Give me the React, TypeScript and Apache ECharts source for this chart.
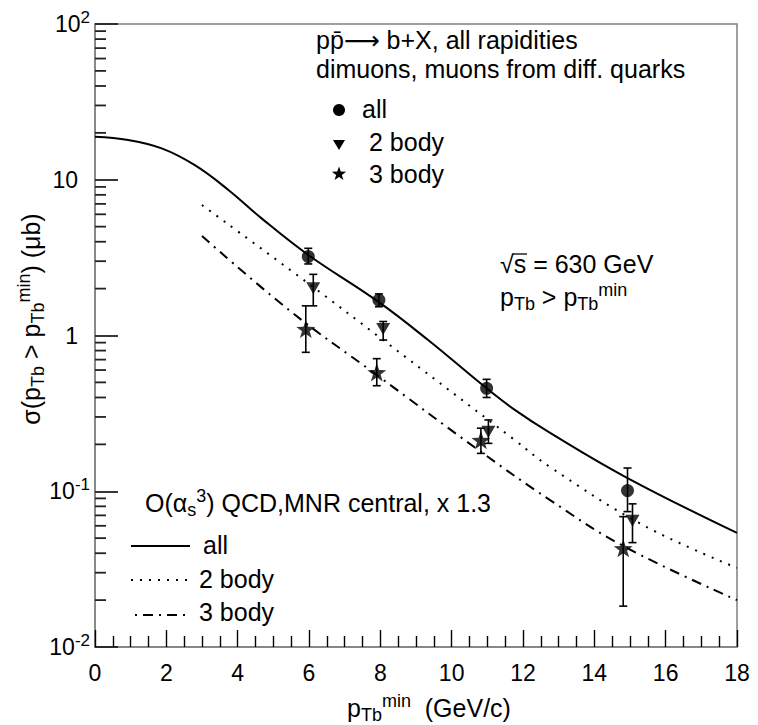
import React, { useEffect, useRef } from 'react';
import * as echarts from 'echarts';

// ---- Theory curves, O(alpha_s^3) QCD (MNR central x 1.3) ----
const curveAllX = [0, 0.93, 1.87, 2.8, 3.74, 4.67, 5.98, 7.94, 9.34, 10.98, 11.77, 12.76, 14.93, 18];
const curveAllY = [18.9, 18.0, 15.9, 12.4, 8.6, 5.65, 3.29, 1.65, 0.935, 0.458, 0.333, 0.237, 0.1216, 0.054];
const curve2X = [3.0, 5.98, 8.08, 11.77, 12.76, 15.36, 18];
const curve2Y = [6.88, 2.16, 0.935, 0.213, 0.143, 0.0607, 0.0322];
const curve3X = [3.0, 5.5, 7.9, 10.75, 12.76, 14.81, 18];
const curve3Y = [4.35, 1.42, 0.558, 0.184, 0.0878, 0.0445, 0.02];

// ---- Data points ----
const allX = [5.98, 7.96, 10.98, 14.93];
const allY = [3.21, 1.69, 0.458, 0.101];
const allLo = [2.88, 1.53, 0.40, 0.074];
const allHi = [3.63, 1.85, 0.523, 0.141];

const twoX = [6.12, 8.08, 11.03, 15.07];
const twoY = [2.01, 1.10, 0.241, 0.0647];
const twoLo = [1.55, 0.935, 0.203, 0.0468];
const twoHi = [2.47, 1.23, 0.287, 0.083];

const threeX = [5.91, 7.90, 10.82, 14.81];
const threeY = [1.10, 0.58, 0.213, 0.043];
const threeLo = [0.78, 0.476, 0.175, 0.0183];
const threeHi = [1.55, 0.71, 0.254, 0.0687];

// ---- Axis ----
const xTickLabels = ['0', '2', '4', '6', '8', '10', '12', '14', '16', '18'];
const yDecadeExp = [-2, -1, 0, 1, 2];
const yMinorMultipliers = [2, 3, 4, 5, 6, 7, 8, 9];

const FONT = "'Liberation Sans', 'DejaVu Sans', Arial, sans-serif";
const STAR = 'path://M0,-10 L2.35,-3.24 L9.51,-3.09 L3.8,1.24 L5.88,8.09 L0,4 L-5.88,8.09 L-3.8,1.24 L-9.51,-3.09 L-2.35,-3.24 Z';
const FS = 25;
const SFS = 18;

function starPoints(cx: number, cy: number, R: number): number[][] {
  const pts: number[][] = [];
  for (let i = 0; i < 10; i++) {
    const ang = -Math.PI / 2 + (i * Math.PI) / 5;
    const r = i % 2 === 0 ? R : R * 0.4;
    pts.push([cx + r * Math.cos(ang), cy + r * Math.sin(ang)]);
  }
  return pts;
}

export default function App() {
  const ref = useRef<HTMLDivElement>(null);
  useEffect(() => {
    const chart = echarts.init(ref.current!, null, { renderer: 'svg' });

    // rows: [x, lo, hi, kind]; kind 0 = error bar, 1 = y-axis minor tick (2..9 x 10^n)
    const barData: number[][] = [];
    allX.forEach((x, i) => barData.push([x, allLo[i], allHi[i], 0]));
    twoX.forEach((x, i) => barData.push([x, twoLo[i], twoHi[i], 0]));
    threeX.forEach((x, i) => barData.push([x, threeLo[i], threeHi[i], 0]));
    for (let e = -2; e < 2; e++) {
      for (const m of yMinorMultipliers) {
        const v = m * Math.pow(10, e);
        barData.push([0.2, v, v, 1]);
      }
    }

    const base = { fontSize: FS, lineHeight: 32, verticalAlign: 'middle', fontFamily: FONT, fill: '#000' };
    const sub = { fontSize: SFS, lineHeight: 15, verticalAlign: 'bottom', fontFamily: FONT, fill: '#000' };
    const sup = { fontSize: SFS, lineHeight: 15, verticalAlign: 'top', fontFamily: FONT, fill: '#000' };
    const plain = (x: number, y: number, text: string, size = FS) => ({
      type: 'text', x, y, silent: true,
      style: { text, fontSize: size, fontFamily: FONT, fill: '#000', align: 'left', verticalAlign: 'middle' },
    });

    const option: any = {
      animation: false,
      textStyle: { fontFamily: FONT },
      grid: { left: 95, right: 21, top: 24, bottom: 78, show: true, borderColor: '#808080', borderWidth: 1.5, backgroundColor: 'transparent' },
      xAxis: {
        type: 'value', min: 0, max: 18, interval: 2,
        axisLine: { show: true, onZero: false, lineStyle: { color: '#808080', width: 1.5 } },
        axisTick: { show: true, inside: true, length: 17, lineStyle: { color: '#000', width: 1.4 } },
        minorTick: { show: true, splitNumber: 4, length: 11, lineStyle: { color: '#000', width: 1.4 } },
        splitLine: { show: false },
        axisLabel: {
          fontSize: 23, color: '#000', margin: 14, fontFamily: FONT,
          formatter: (v: number) => xTickLabels[Math.round(v / 2)] ?? '',
        },
      },
      yAxis: {
        type: 'log', min: 0.01, max: 100, logBase: 10,
        axisLine: { show: true, onZero: false, lineStyle: { color: '#808080', width: 1.5 } },
        axisTick: { show: true, inside: true, length: 23, lineStyle: { color: '#222', width: 1.8 } },
        splitLine: { show: false },
        axisLabel: {
          margin: 5, fontFamily: FONT,
          formatter: (v: number) => {
            const e = Math.round(Math.log10(v));
            if (!yDecadeExp.includes(e)) return '';
            if (e === 0) return '{b|1}{p| }';
            if (e === 1) return '{b|10}{p| }';
            return '{b|10}{s|' + e + '}';
          },
          rich: {
            b: { fontSize: 23, lineHeight: 30, verticalAlign: 'middle', color: '#000', fontFamily: FONT },
            s: { fontSize: 17, lineHeight: 14, verticalAlign: 'top', color: '#000', fontFamily: FONT },
            p: { width: 12, fontSize: 16 },
          },
        },
      },
      series: [
        {
          type: 'line', name: 'all curve', data: curveAllX.map((x, i) => [x, curveAllY[i]]),
          smooth: 0.4, showSymbol: false, lineStyle: { color: '#000', width: 2 }, z: 2,
        },
        {
          type: 'line', name: '2 body curve', data: curve2X.map((x, i) => [x, curve2Y[i]]),
          smooth: 0.4, showSymbol: false, lineStyle: { color: '#000', width: 2, type: [2, 7] }, z: 2,
        },
        {
          type: 'line', name: '3 body curve', data: curve3X.map((x, i) => [x, curve3Y[i]]),
          smooth: 0.4, showSymbol: false, lineStyle: { color: '#000', width: 2, type: [10, 6, 2, 6] }, z: 2,
        },
        {
          type: 'custom', name: 'errors and minor ticks', silent: true, z: 8, clip: false,
          data: barData,
          encode: { x: 0, y: [1, 2] },
          renderItem: (params: any, api: any) => {
            const x = api.value(0);
            const kind = barData[params.dataIndex][3];
            const lo = api.coord([x, api.value(1)]);
            const hi = api.coord([x, api.value(2)]);
            if (kind === 1) {
              const axisX = api.coord([0, api.value(1)]);
              return {
                type: 'rect',
                shape: { x: axisX[0], y: axisX[1] - 0.9, width: 11, height: 1.8 },
                style: { fill: '#222' },
              };
            }
            const st = { stroke: '#000', lineWidth: 1.6 };
            const w = 4;
            return {
              type: 'group', children: [
                { type: 'line', shape: { x1: hi[0], y1: hi[1], x2: lo[0], y2: lo[1] }, style: st },
                { type: 'line', shape: { x1: hi[0] - w, y1: hi[1], x2: hi[0] + w, y2: hi[1] }, style: st },
                { type: 'line', shape: { x1: lo[0] - w, y1: lo[1], x2: lo[0] + w, y2: lo[1] }, style: st },
              ],
            };
          },
        },
        {
          type: 'scatter', name: 'all', data: allX.map((x, i) => [x, allY[i]]),
          symbol: 'circle', symbolSize: 13, itemStyle: { color: '#000' }, z: 5,
        },
        {
          type: 'scatter', name: '2 body', data: twoX.map((x, i) => [x, twoY[i]]),
          symbol: 'triangle', symbolRotate: 180, symbolSize: [14, 12], itemStyle: { color: '#000' }, z: 5,
        },
        {
          type: 'scatter', name: '3 body', data: threeX.map((x, i) => [x, threeY[i]]),
          symbol: STAR, symbolKeepAspect: true, symbolSize: 19, itemStyle: { color: '#000' }, z: 5,
        },
      ],
      graphic: [
        plain(316, 40, 'pp\u0304\u27F6 b+X, all rapidities'),
        plain(316, 69, 'dimuons, muons from diff. quarks'),
        { type: 'circle', shape: { cx: 339, cy: 110, r: 6 }, style: { fill: '#000' }, silent: true },
        { type: 'polygon', shape: { points: [[333, 140], [345, 140], [339, 150]] }, style: { fill: '#000' }, silent: true },
        { type: 'polygon', shape: { points: starPoints(339, 174, 7.5) }, style: { fill: '#000' }, silent: true },
        plain(362, 109, 'all'),
        plain(369, 142, '2 body'),
        plain(369, 174, '3 body'),
        plain(500, 264, '\u221As = 630 GeV'),
        { type: 'line', shape: { x1: 513, y1: 254, x2: 527, y2: 254 }, style: { stroke: '#000', lineWidth: 1.3 }, silent: true },
        {
          type: 'text', x: 500, y: 297, silent: true,
          style: { text: '{b|p}{sub|Tb}{b| > p}{sub|Tb}{sup|min}', rich: { b: base, sub, sup }, align: 'left', verticalAlign: 'middle', fontFamily: FONT, fontSize: FS, fill: '#000' },
        },
        {
          type: 'text', x: 145, y: 503, silent: true,
          style: { text: '{b|O(\u03B1}{sub|s}{sup|3}{b|) QCD,MNR central, x 1.3}', rich: { b: base, sub, sup }, align: 'left', verticalAlign: 'middle', fontFamily: FONT, fontSize: FS, fill: '#000' },
        },
        { type: 'line', shape: { x1: 131, y1: 546, x2: 190, y2: 546 }, style: { stroke: '#000', lineWidth: 2 }, silent: true },
        plain(203, 545, 'all'),
        { type: 'line', shape: { x1: 131, y1: 580, x2: 190, y2: 580 }, style: { stroke: '#000', lineWidth: 2, lineDash: [2, 7] }, silent: true },
        plain(199, 579, '2 body'),
        { type: 'line', shape: { x1: 131, y1: 615, x2: 190, y2: 615 }, style: { stroke: '#000', lineWidth: 2, lineDash: [10, 6, 2, 6], lineDashOffset: 12 }, silent: true },
        plain(199, 612, '3 body'),
        {
          type: 'text', x: 347, y: 708, silent: true,
          style: { text: '{b|p}{sub|Tb}{sup|min}{b|  (GeV/c)}', rich: { b: base, sub, sup }, align: 'left', verticalAlign: 'middle', fontFamily: FONT, fontSize: FS, fill: '#000' },
        },
        {
          type: 'text', x: 31, y: 319, rotation: Math.PI / 2, silent: true,
          style: { text: '{b|\u03C3(p}{sub|Tb}{b| > p}{sub|Tb}{sup|min}{b|) (\u03BCb)}', rich: { b: base, sub, sup }, align: 'center', verticalAlign: 'middle', fontFamily: FONT, fontSize: FS, fill: '#000' },
        },
      ],
    };
    chart.setOption(option);
    return () => chart.dispose();
  }, []);
  return <div ref={ref} style={{ position: 'fixed', left: 0, top: 0, width: 758, height: 725, background: '#fff' }} />;
}
